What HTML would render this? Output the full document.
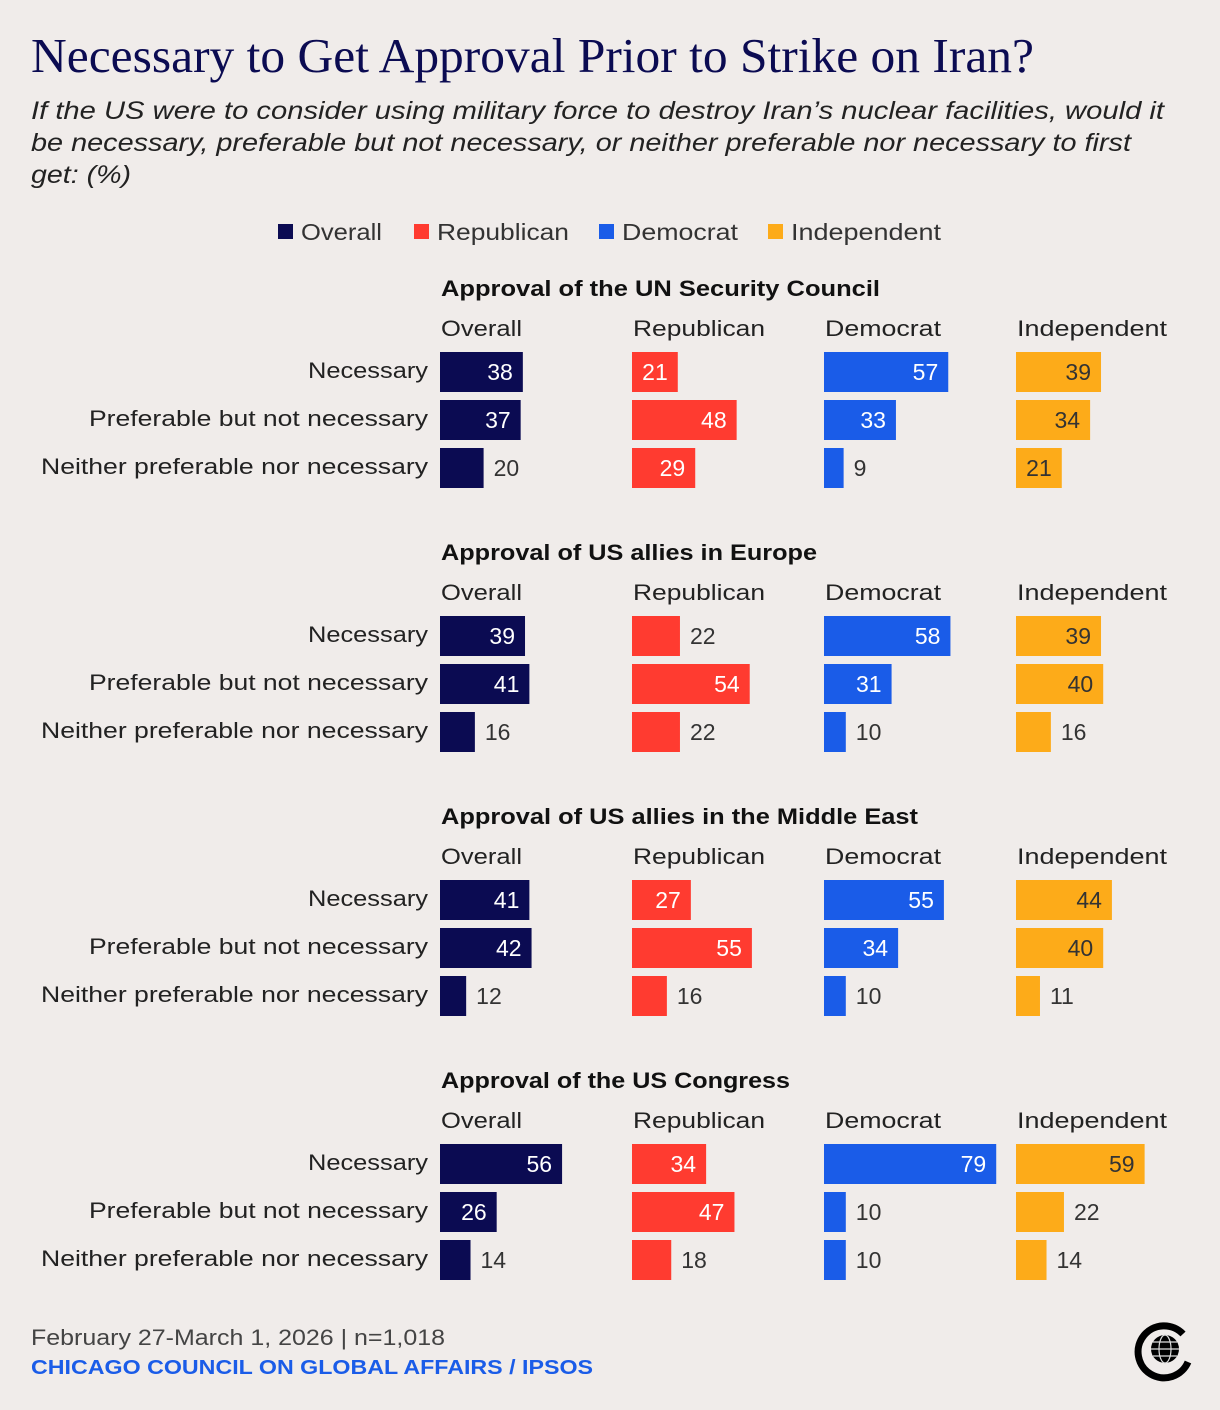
<!DOCTYPE html>
<html><head><meta charset="utf-8">
<style>
html,body{margin:0;padding:0;background:#f0ecea;}
svg{display:block;font-family:"Liberation Sans",Arial,sans-serif;}
</style></head>
<body>
<svg id="chart" width="1220" height="1410" viewBox="0 0 1220 1410" xmlns="http://www.w3.org/2000/svg">
<rect width="1220" height="1410" fill="#f0ecea"/>
<text x="31" y="72" font-family="Liberation Serif,serif" font-size="49" fill="#0b0b52" textLength="1003" lengthAdjust="spacingAndGlyphs">Necessary to Get Approval Prior to Strike on Iran?</text>
<g font-style="italic" font-size="25" fill="#222">
<text x="31" y="119" textLength="1133" lengthAdjust="spacingAndGlyphs">If the US were to consider using military force to destroy Iran’s nuclear facilities, would it</text>
<text x="31" y="151" textLength="1100" lengthAdjust="spacingAndGlyphs">be necessary, preferable but not necessary, or neither preferable nor necessary to first</text>
<text x="31" y="183" textLength="100" lengthAdjust="spacingAndGlyphs">get: (%)</text>
</g>
<g id="legend" font-size="23" fill="#333"></g>
<g id="panels"></g>
<text x="31" y="1345" font-size="22" fill="#444" textLength="414" lengthAdjust="spacingAndGlyphs">February 27-March 1, 2026 | n=1,018</text>
<text x="31" y="1374" font-size="20" font-weight="bold" fill="#1a5ce8" textLength="562" lengthAdjust="spacingAndGlyphs">CHICAGO COUNCIL ON GLOBAL AFFAIRS / IPSOS</text>
<g>
<path d="M1183 1334 A26 26 0 1 0 1188 1362" fill="none" stroke="#000" stroke-width="7"/>
<circle cx="1165" cy="1349" r="14" fill="#000"/>
<g stroke="#ddd" stroke-width="1.2" fill="none"><ellipse cx="1165" cy="1349" rx="6" ry="14"/><line x1="1151" y1="1349" x2="1179" y2="1349"/><line x1="1153" y1="1342" x2="1177" y2="1342"/><line x1="1153" y1="1356" x2="1177" y2="1356"/></g>
</g>
</svg>
<script>
const groups = ["Overall","Republican","Democrat","Independent"];
const colors = ["#0b0b52","#ff3b30","#1a5ce8","#fdab19"];
const insideText = ["#fff","#fff","#fff","#333"];
const sections = ["Approval of the UN Security Council","Approval of US allies in Europe","Approval of US allies in the Middle East","Approval of the US Congress"];
const rows = ["Necessary","Preferable but not necessary","Neither preferable nor necessary"];
// values[section][row][group]
const unValues = [[38,21,57,39],[37,48,33,34],[20,29,9,21]];
const europeValues = [[39,22,58,39],[41,54,31,40],[16,22,10,16]];
const meValues = [[41,27,55,44],[42,55,34,40],[12,16,10,11]];
const congressValues = [[56,34,79,59],[26,47,10,22],[14,18,10,14]];
const values = [unValues, europeValues, meValues, congressValues];

const NS = "http://www.w3.org/2000/svg";
function mk(tag, attrs, parent, text){
  const e = document.createElementNS(NS, tag);
  for (const k in attrs) e.setAttribute(k, attrs[k]);
  if (text !== undefined) e.textContent = text;
  parent.appendChild(e); return e;
}
const xScale = v => v * 2.18;
const colX = g => 440 + g * 192;
const groupW = [81,132,116,150];
const rowW = [120,339,387];
const sectionW = [439,376,477,349];

// legend
const legend = document.getElementById('legend');
const legX = [278, 414, 599, 768];
groups.forEach((g,i)=>{
  const r = mk('rect',{x:legX[i],y:224,width:15,height:15,fill:colors[i]},legend);
  
  
  const t = mk('text',{x:legX[i]+23,y:240,textLength:groupW[i],lengthAdjust:'spacingAndGlyphs'},legend,g);
  
  
});

const panels = document.getElementById('panels');
sections.forEach((s,si)=>{
  const y0 = 288 + si * 264;
  const g = mk('g',{},panels);
  
  
  const st = mk('text',{x:441,y:y0+8,'font-size':22,'font-weight':'bold',fill:'#111',textLength:sectionW[si],lengthAdjust:'spacingAndGlyphs'},g,s);
  
  
  groups.forEach((gr,gi)=>{
    const gt = mk('text',{x:colX(gi)+1,y:y0+48,'font-size':22,fill:'#222',textLength:groupW[gi],lengthAdjust:'spacingAndGlyphs'},g,gr);
    
    
  });
  rows.forEach((r,ri)=>{
    const by = y0 + 64 + ri*48;
    const rt = mk('text',{x:428-rowW[ri],y:by+26,'font-size':22,fill:'#222',textLength:rowW[ri],lengthAdjust:'spacingAndGlyphs'},g,r);
    
    
    groups.forEach((gr,gi)=>{
      const v = values[si][ri][gi];
      const w = xScale(v);
      const bar = mk('rect',{x:colX(gi),y:by,width:w,height:40,fill:colors[gi]},g);
      
      
      const inside = v > 20 && v !== 22;
      const vt = mk('text',{
        x: inside ? colX(gi)+w-10 : colX(gi)+w+10,
        y: by+28,'font-size':23,
        fill: inside ? insideText[gi] : '#333',
        'text-anchor': inside ? 'end':'start'},g,String(v));
      
      
    });
  });
});
</script>
</body></html>
